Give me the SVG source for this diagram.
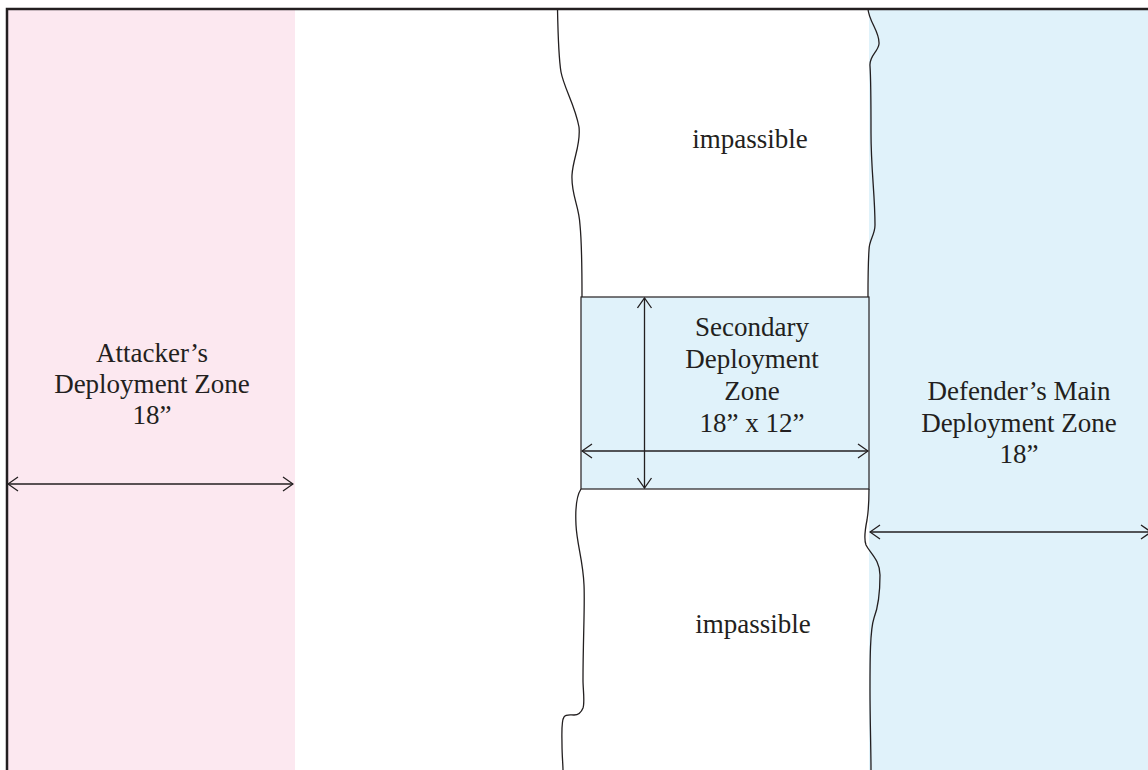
<svg xmlns="http://www.w3.org/2000/svg" width="1148" height="770" viewBox="0 0 1148 770">
  <defs>
    <style>
      .lbl { font-family: "Liberation Serif", "Times New Roman", serif; font-size: 27px; fill: #231f20; text-anchor: middle; }
      .edge { fill: none; stroke: #231f20; stroke-width: 1.3; }
      .dim { fill: none; stroke: #231f20; stroke-width: 1.3; }
    </style>
    <marker id="open" viewBox="0 0 12 16" refX="11" refY="8" markerWidth="12" markerHeight="16" markerUnits="userSpaceOnUse" orient="auto-start-reverse">
      <path d="M1,1 L11,8 L1,15" fill="none" stroke="#231f20" stroke-width="1.3"/>
    </marker>
  </defs>

  <rect width="1148" height="770" fill="#ffffff"/>

  <!-- deployment zone fills -->
  <g id="attacker-zone">
    <rect x="8" y="9" width="287" height="761" fill="#fce8f0"/>
    <text class="lbl" x="152" y="362">Attacker’s</text>
    <text class="lbl" x="152" y="393">Deployment Zone</text>
    <text class="lbl" x="152" y="424">18”</text>
  </g>

  <g id="defender-zone">
    <rect x="869" y="9" width="279" height="761" fill="#e0f2fa"/>
    <text class="lbl" x="1019" y="400">Defender’s Main</text>
    <text class="lbl" x="1019" y="432">Deployment Zone</text>
    <text class="lbl" x="1019" y="463">18”</text>
  </g>

  <!-- board edge -->
  <path d="M7,770 L7,9 L1148,9" fill="none" stroke="#231f20" stroke-width="2.5"/>

  <!-- impassable terrain boundaries -->
  <g id="impassable-top">
    <path class="edge" d="M557.5,9 C558,35 559,60 561,72 C564,88 575,105 579,127 C581,145 573,158 572,175 C571,195 579,205 580,225 C582,245 582,270 582,297"/>
    <path class="edge" d="M868,9 C869,22 880,32 879,44 C878,52 869,56 870,66 C871,80 871,110 871,133 C871,170 875,195 875,225 C875,235 869,240 869,250 C868,265 868,280 868,297"/>
    <text class="lbl" x="750" y="148">impassible</text>
  </g>

  <g id="impassable-bottom">
    <path class="edge" d="M581,489 C577,495 575,505 576,525 C577,545 583,560 584,585 C585,605 583,640 583,680 C583,690 585,702 583,708 C581,713 578,715 574,715 C570,715 566,714 564,717 C561,721 562,735 562,745 C562,755 563,765 563,770"/>
    <path class="edge" d="M869,489 C869,500 869,508 867,520 C865,530 864,540 866,545 C870,553 880,560 880,575 C880,590 879,605 874,618 C870,630 870,660 870,690 C870,720 871,750 871,770"/>
    <text class="lbl" x="753" y="633">impassible</text>
  </g>

  <g id="secondary-zone">
    <rect x="581" y="297" width="288" height="192" fill="#e0f2fa" stroke="#231f20" stroke-width="1.2"/>
    <text class="lbl" x="752" y="336">Secondary</text>
    <text class="lbl" x="752" y="368">Deployment</text>
    <text class="lbl" x="752" y="400">Zone</text>
    <text class="lbl" x="752" y="432">18” x 12”</text>
  </g>

  <!-- dimension arrows -->
  <g id="connectors">
    <line class="dim" x1="8" y1="484" x2="293" y2="484" marker-start="url(#open)" marker-end="url(#open)"/>
    <line class="dim" x1="582" y1="451" x2="868" y2="451" marker-start="url(#open)" marker-end="url(#open)"/>
    <line class="dim" x1="644.5" y1="298" x2="644.5" y2="488" marker-start="url(#open)" marker-end="url(#open)"/>
    <line class="dim" x1="870" y1="532" x2="1151" y2="532" marker-start="url(#open)" marker-end="url(#open)"/>
  </g>
</svg>
